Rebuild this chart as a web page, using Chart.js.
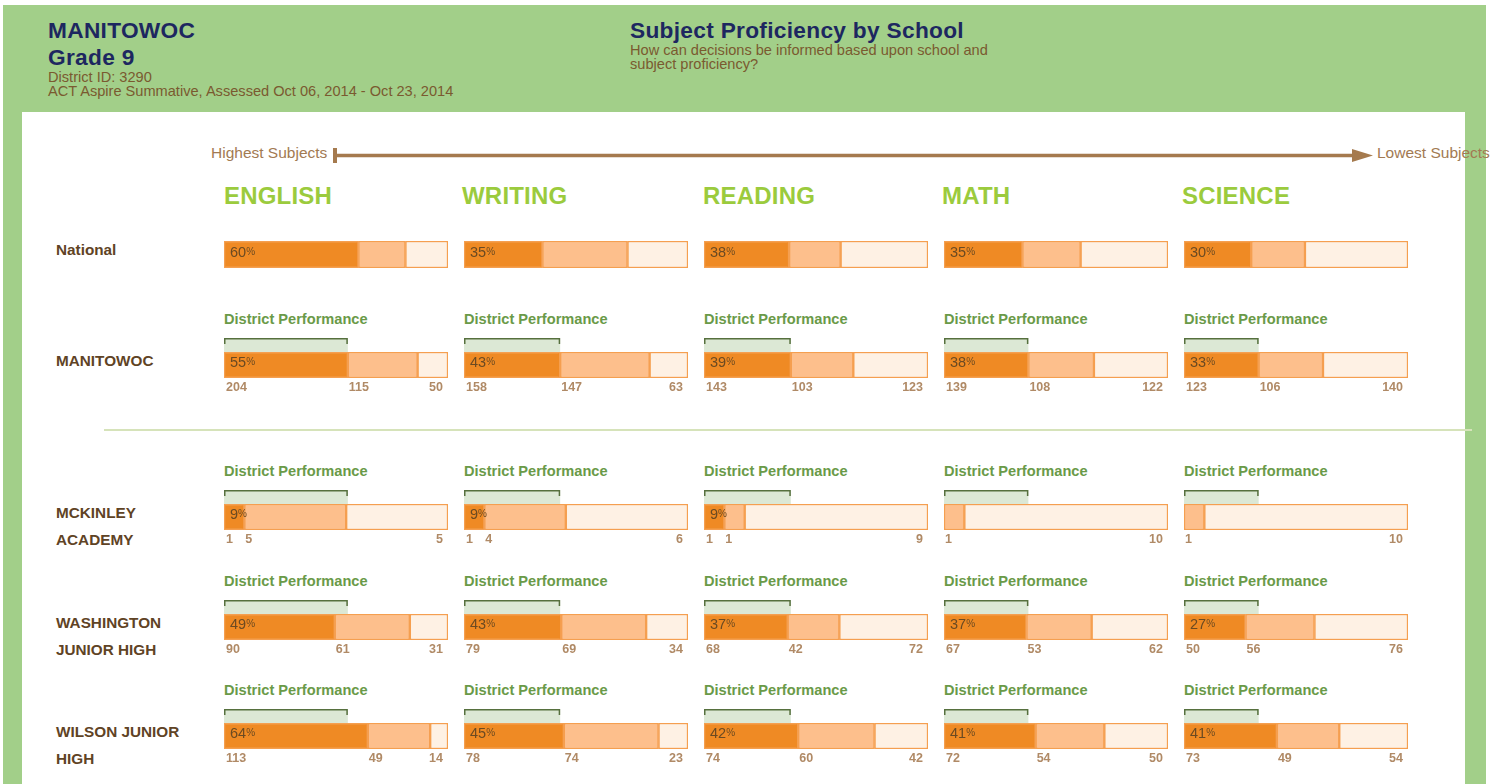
<!DOCTYPE html>
<html>
<head>
<meta charset="utf-8">
<script src="https://cdn.jsdelivr.net/npm/chart.js@4.4.1/dist/chart.umd.min.js"></script>
<style>
  body { margin: 0; background: #fff; font-family: "Liberation Sans", Arial, sans-serif; }
  #page { position: relative; width: 1496px; height: 784px; overflow: hidden; }
  #green { position: absolute; left: 3px; top: 5px; width: 1483px; height: 800px; background: #a2cf89; }
  #white { position: absolute; left: 22px; top: 112px; width: 1443px; height: 700px; background: #fff; }
  .t { position: absolute; white-space: nowrap; }
  .navy { color: #1d2760; font-weight: bold; font-size: 22.7px; letter-spacing: 0.3px; }
  .sub { color: #7a5a30; font-size: 14.6px; }
  .subject { color: #9bcb3d; font-weight: bold; font-size: 24px; letter-spacing: 0.2px; }
  .row { color: #5f4325; font-weight: bold; font-size: 15.3px; }
  .dp { color: #6a9a48; font-weight: bold; font-size: 14.6px; }
  .dir { color: #a27a52; font-size: 15.5px; }
  #divider { position: absolute; left: 104px; top: 429px; width: 1368px; height: 2px; background: #d6e3ba; }
  canvas { position: absolute; }
</style>
</head>
<body>
<div id="page">
  <div id="green"></div>
  <div id="white"></div>
  <div id="divider"></div>
  <svg style="position:absolute;left:0;top:0" width="1496" height="784">
    <line x1="335" y1="155.5" x2="1356" y2="155.5" stroke="#a57a4e" stroke-width="3.5"/>
    <rect x="333" y="148" width="4" height="15" fill="#a57a4e"/>
    <polygon points="1352,149 1373,155.5 1352,162" fill="#a57a4e"/>
  </svg>
</div>
<script>
// ---- data ----
const subjects = ["ENGLISH", "WRITING", "READING", "MATH", "SCIENCE"];
const rowNames = [["National"], ["MANITOWOC"], ["MCKINLEY", "ACADEMY"], ["WASHINGTON", "JUNIOR HIGH"], ["WILSON JUNIOR", "HIGH"]];

// national, in percent (proficient / near / below)
const nationalProficient = [60, 35, 38, 35, 30];
const nationalNear = [21, 38, 23, 26, 24];
const nationalBelow = [19, 27, 39, 39, 46];

// student counts (proficient / near / below)
const districtProficient = [204, 158, 143, 139, 123];
const districtNear = [115, 147, 103, 108, 106];
const districtBelow = [50, 63, 123, 122, 140];

const mckinleyProficient = [1, 1, 1, 0, 0];
const mckinleyNear = [5, 4, 1, 1, 1];
const mckinleyBelow = [5, 6, 9, 10, 10];

const washingtonProficient = [90, 79, 68, 67, 50];
const washingtonNear = [61, 69, 42, 53, 56];
const washingtonBelow = [31, 34, 72, 62, 76];

const wilsonProficient = [113, 78, 74, 72, 73];
const wilsonNear = [49, 74, 60, 54, 49];
const wilsonBelow = [14, 23, 42, 50, 54];

// ---- layout ----
const colX = [224, 464, 704, 944, 1184];
const headX = [224, 462, 703, 942, 1182];
const barTops = [241, 352, 504, 614, 723];
const barW = 224, barH = 26;
const segColors = ["#ef8a24", "#fdbf8c", "#fef1e4"];

const page = document.getElementById("page");
function text(str, cls, x, cy, h) {
  const d = document.createElement("div");
  d.className = "t " + cls;
  d.textContent = str;
  d.style.left = x + "px";
  d.style.top = (cy - h / 2) + "px";
  d.style.height = h + "px";
  d.style.lineHeight = h + "px";
  page.appendChild(d);
}

// header
text("MANITOWOC", "navy", 48, 30, 24);
text("Grade 9", "navy", 48, 57, 24);
text("District ID: 3290", "sub", 48, 77, 14);
text("ACT Aspire Summative, Assessed Oct 06, 2014 - Oct 23, 2014", "sub", 48, 91, 14);
text("Subject Proficiency by School", "navy", 630, 30, 24);
text("How can decisions be informed based upon school and", "sub", 630, 50, 14);
text("subject proficiency?", "sub", 630, 64, 14);
text("Highest Subjects", "dir", 211, 153, 16);
text("Lowest Subjects", "dir", 1377, 153, 16);

subjects.forEach((s, i) => text(s, "subject", headX[i], 196, 26));
rowNames.forEach((lines, r) => {
  lines.forEach((ln, k) => text(ln, "row", 56, barTops[r] + 9 + k * 27, 18));
});

const cellPlugin = {
  id: "cell",
  beforeDatasetsDraw(chart, args, o) {
    if (o.district == null) return;
    const { ctx, chartArea, scales } = chart;
    const x0 = scales.x.getPixelForValue(0);
    const x1 = scales.x.getPixelForValue(o.district);
    const top = chartArea.top - 14;
    ctx.save();
    ctx.fillStyle = "#dce8d5";
    ctx.fillRect(x0, top, x1 - x0, 14);
    ctx.strokeStyle = "#56703e";
    ctx.lineWidth = 1.5;
    ctx.beginPath();
    ctx.moveTo(x0 + 0.75, top + 6);
    ctx.lineTo(x0 + 0.75, top + 0.75);
    ctx.lineTo(x1 - 0.75, top + 0.75);
    ctx.lineTo(x1 - 0.75, top + 6);
    ctx.stroke();
    ctx.restore();
  },
  afterDatasetsDraw(chart, args, o) {
    const { ctx, chartArea } = chart;
    const bars = [0, 1, 2].map(i => chart.getDatasetMeta(i).data[0].getProps(["x", "base", "y"], true));
    const cy = bars[0].y;
    ctx.save();
    if (o.pct > 0) {
      const tx = bars[0].base + 6;
      ctx.fillStyle = "#6b4a22";
      ctx.textBaseline = "alphabetic";
      ctx.font = '14.5px "Liberation Sans", Arial';
      ctx.fillText(String(o.pct), tx, cy + 2);
      const w = ctx.measureText(String(o.pct)).width;
      ctx.font = '10px "Liberation Sans", Arial';
      ctx.fillText("%", tx + w, cy);
    }
    if (o.counts) {
      ctx.fillStyle = "#b08a66";
      ctx.font = 'bold 12.5px "Liberation Sans", Arial';
      ctx.textBaseline = "middle";
      const ly = chartArea.bottom + 10;
      ctx.textAlign = "left";
      if (o.counts[0] > 0) ctx.fillText(String(o.counts[0]), bars[0].base + 2, ly);
      if (o.counts[1] > 0) ctx.fillText(String(o.counts[1]), bars[1].base + 1, ly);
      ctx.textAlign = "right";
      ctx.fillText(String(o.counts[2]), bars[2].x - 5, ly);
    }
    ctx.restore();
  }
};

function makeCell(x, top, segs, opt) {
  const padTop = opt.counts ? 18 : 0;
  const padBottom = opt.counts ? 22 : 0;
  const cv = document.createElement("canvas");
  const w = barW + 4, h = padTop + opt.h + padBottom;
  cv.width = w; cv.height = h;
  cv.style.left = (x - 2) + "px";
  cv.style.top = (top - padTop) + "px";
  cv.style.width = w + "px"; cv.style.height = h + "px";
  page.appendChild(cv);
  new Chart(cv, {
    type: "bar",
    data: {
      labels: [""],
      datasets: segs.map((v, i) => ({
        data: [v],
        backgroundColor: segColors[i],
        borderColor: "#f59f50",
        borderWidth: 1.5,
        borderSkipped: false,
        barPercentage: 1,
        categoryPercentage: 1
      }))
    },
    options: {
      indexAxis: "y",
      responsive: false,
      animation: false,
      devicePixelRatio: 1,
      events: [],
      layout: { padding: { top: padTop, bottom: padBottom, left: 2, right: 2 } },
      scales: {
        x: { stacked: true, display: false, min: 0, max: 100 },
        y: { stacked: true, display: false }
      },
      plugins: { legend: { display: false }, tooltip: { enabled: false }, cell: opt }
    },
    plugins: [cellPlugin]
  });
}

// national row
subjects.forEach((s, i) => {
  makeCell(colX[i], barTops[0], [nationalProficient[i], nationalNear[i], nationalBelow[i]],
    { h: 27, pct: nationalProficient[i] });
});

const schools = [
  [districtProficient, districtNear, districtBelow],
  [mckinleyProficient, mckinleyNear, mckinleyBelow],
  [washingtonProficient, washingtonNear, washingtonBelow],
  [wilsonProficient, wilsonNear, wilsonBelow]
];

schools.forEach((sc, r) => {
  const top = barTops[r + 1];
  subjects.forEach((s, i) => {
    text("District Performance", "dp", colX[i], top - 33, 18);
    const counts = [sc[0][i], sc[1][i], sc[2][i]];
    const total = counts[0] + counts[1] + counts[2];
    const dTotal = districtProficient[i] + districtNear[i] + districtBelow[i];
    makeCell(colX[i], top, counts.map(c => c * 100 / total), {
      h: barH,
      pct: Math.round(counts[0] * 100 / total),
      counts: counts,
      district: districtProficient[i] * 100 / dTotal
    });
  });
});
</script>
</body>
</html>
